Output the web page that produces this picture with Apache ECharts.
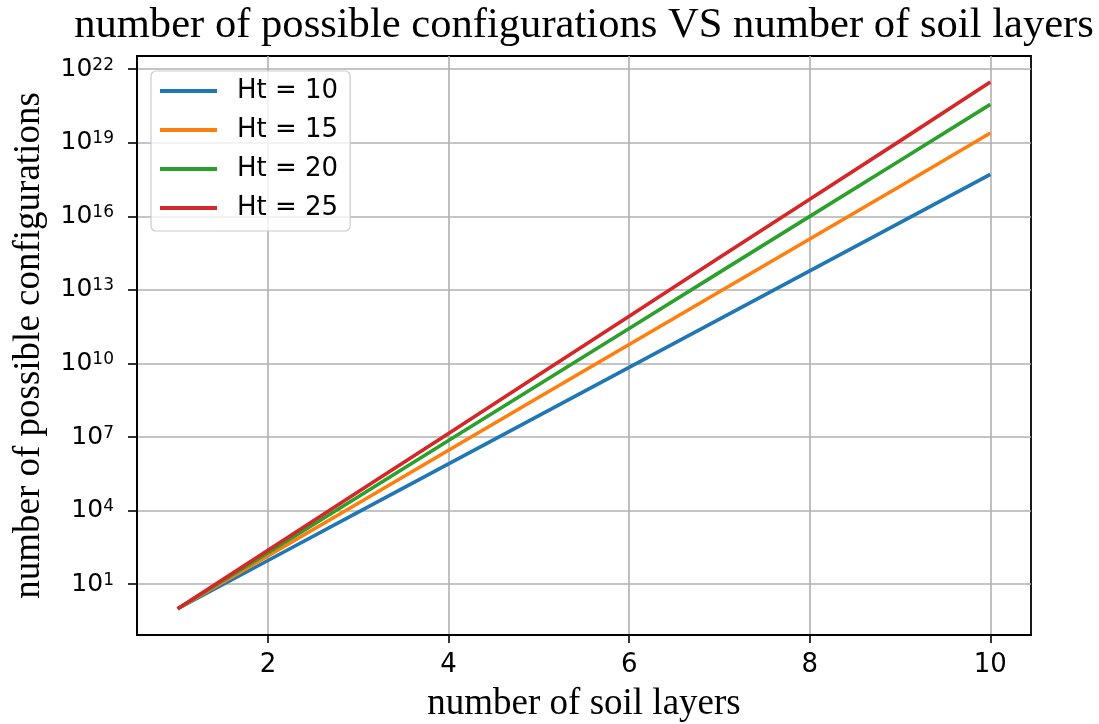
<!DOCTYPE html>
<html>
<head>
<meta charset="utf-8">
<script src="https://cdn.jsdelivr.net/npm/echarts@6/dist/echarts.min.js"></script>
<style>
  html, body { margin: 0; padding: 0; background: #fff; }
  #chart { width: 1099px; height: 724px; }
</style>
</head>
<body>
<div id="chart"></div>
<script>
// number of soil layers
var layers = [1, 2, 3, 4, 5, 6, 7, 8, 9, 10];
// number of possible configurations
var ht10 = [1, 93, 8.7e3, 8.1e5, 7.5e7, 7.0e9, 6.5e11, 6.0e13, 5.6e15, 5.2e17];
var ht15 = [1, 143, 2.0e4, 2.9e6, 4.2e8, 6.0e10, 8.5e12, 1.2e15, 1.7e17, 2.5e19];
var ht20 = [1, 193, 3.7e4, 7.2e6, 1.4e9, 2.7e11, 5.2e13, 1.0e16, 1.9e18, 3.7e20];
var ht25 = [1, 243, 5.9e4, 1.4e7, 3.5e9, 8.5e11, 2.1e14, 5.0e16, 1.2e19, 3.0e21];
var seriesNames = ['Ht = 10', 'Ht = 15', 'Ht = 20', 'Ht = 25'];
var colors = ['#1f77b4', '#ff7f0e', '#2ca02c', '#d62728'];
var xTicks = [2, 4, 6, 8, 10];
var yTicks = [1e1, 1e4, 1e7, 1e10, 1e13, 1e16, 1e19, 1e22];

var sans = 'DejaVu Sans';
var serif = 'Liberation Serif';

function pairs(ys) {
    return layers.map(function (x, i) { return [x, ys[i]]; });
}

var myChart = echarts.init(document.getElementById('chart'));

var series = [ht10, ht15, ht20, ht25].map(function (ys, i) {
    return {
        name: seriesNames[i],
        type: 'line',
        data: pairs(ys),
        showSymbol: false,
        symbol: 'none',
        color: colors[i],
        lineStyle: { width: 3.6, color: colors[i] },
        z: 3 + i
    };
});

var option = {
    animation: false,
    backgroundColor: '#fff',
    title: {
        text: 'number of possible configurations VS number of soil layers',
        left: 584,
        top: 5,
        padding: 0,
        textAlign: 'center',
        textStyle: { fontFamily: serif, fontSize: 42.6, fontWeight: 'normal', color: '#000', lineHeight: 42 }
    },
    legend: {
        orient: 'vertical',
        left: 151,
        top: 71,
        padding: [7, 12, 10, 9],
        itemWidth: 57,
        itemHeight: 4,
        itemGap: 13,
        icon: 'rect',
        backgroundColor: 'rgba(255,255,255,0.8)',
        borderColor: '#cccccc',
        borderWidth: 1.2,
        borderRadius: 5,
        data: seriesNames,
        textStyle: { fontFamily: sans, fontSize: 26, lineHeight: 26, color: '#000', padding: [0, 0, 0, 15] }
    },
    grid: {
        left: 137, top: 56, width: 894, height: 579,
        show: true, borderColor: '#000', borderWidth: 1.8,
        containLabel: false, outerBoundsMode: 'none'
    },
    xAxis: {
        type: 'value',
        min: 0.55,
        max: 10.45,
        name: 'number of soil layers',
        nameLocation: 'middle',
        nameGap: 51,
        nameTextStyle: { fontFamily: serif, fontSize: 37, color: '#000', lineHeight: 37 },
        axisLine: { show: true, lineStyle: { color: '#000', width: 1.8 } },
        axisTick: { show: true, customValues: xTicks, length: 8, lineStyle: { color: '#000', width: 1.6 } },
        axisLabel: { customValues: xTicks, fontFamily: sans, fontSize: 26, lineHeight: 26, color: '#000', margin: 17 },
        splitLine: { show: true, lineStyle: { color: '#b0b0b0', width: 1.6 } },
        minorTick: { show: false }
    },
    yAxis: {
        type: 'log',
        logBase: 10,
        min: Math.pow(10, -1.07),
        max: Math.pow(10, 22.54),
        name: 'number of possible configurations',
        nameLocation: 'middle',
        nameRotate: 90,
        nameGap: 89,
        nameTextStyle: { fontFamily: serif, fontSize: 37, color: '#000', lineHeight: 37 },
        axisLine: { show: true, lineStyle: { color: '#000', width: 1.8 } },
        axisTick: { show: true, customValues: yTicks, length: 9, lineStyle: { color: '#000', width: 1.6 } },
        axisLabel: {
            customValues: yTicks,
            margin: 23,
            color: '#000',
            formatter: function (v) {
                var e = Math.round(Math.log(v) / Math.LN10);
                return '{b|10}{s|' + e + '}';
            },
            rich: {
                b: { fontFamily: sans, fontSize: 25, lineHeight: 25, color: '#000' },
                s: { fontFamily: sans, fontSize: 17, lineHeight: 12, verticalAlign: 'top', color: '#000' }
            }
        },
        splitLine: { show: true, lineStyle: { color: '#b0b0b0', width: 1.6 } },
        minorTick: { show: false },
        minorSplitLine: { show: false }
    },
    series: series
};

myChart.setOption(option);
</script>
</body>
</html>
